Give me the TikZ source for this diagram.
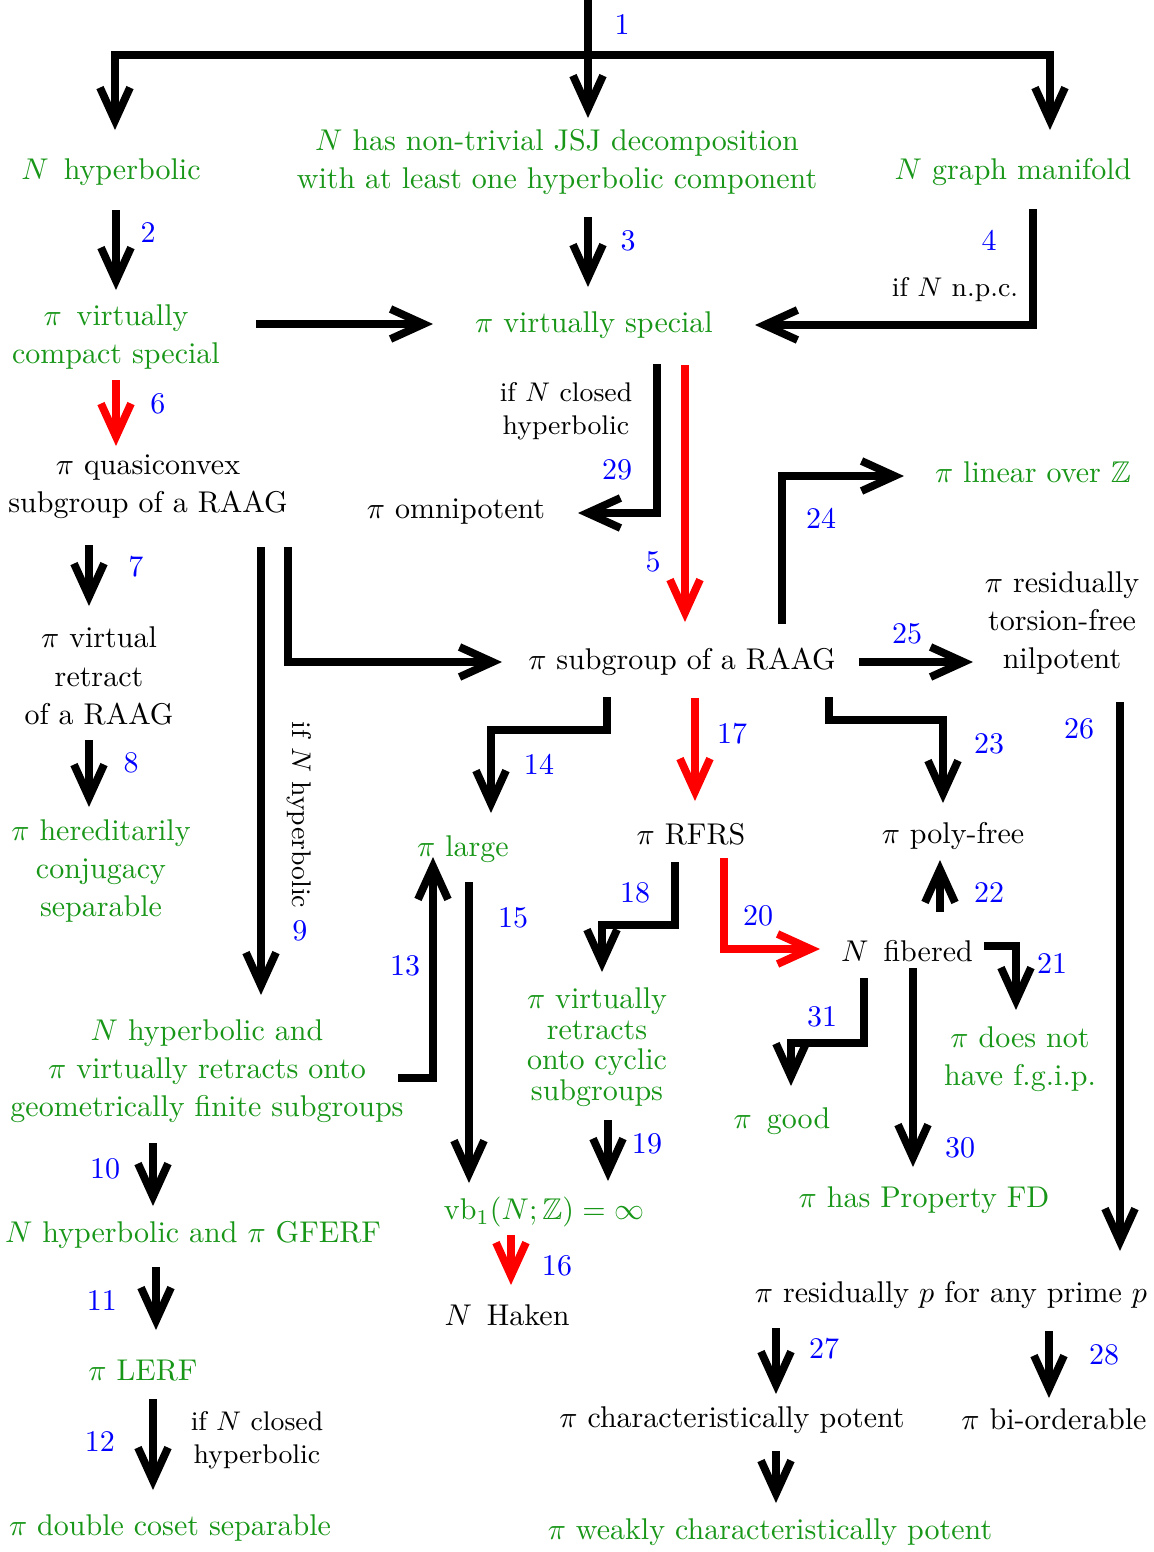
\documentclass[tikz,border=0pt]{standalone}
\usepackage{amsmath,amssymb}
\usepackage{xcolor}
\usetikzlibrary{arrows.meta,calc}
\definecolor{propgreen}{RGB}{24,150,24}
\tikzset{>=latex}
\tikzset{
  imp/.style={line width=2.6pt, -{Straight Barb[length=11pt,width=10pt]}},
  redimp/.style={imp, red},
  prop/.style={text=propgreen, align=center, font=\fontsize{10pt}{12.7pt}\selectfont},
  plain/.style={align=center, font=\fontsize{10pt}{12.7pt}\selectfont},
  num/.style={text=blue},
  cond/.style={align=center, font=\small},
}

\begin{document}
\begin{tikzpicture}[x=0.3333pt, y=-0.3333pt]

\useasboundingbox (0,0) rectangle (1153,1552);

% Top row
\node[prop] (hyp) at (111,172) {$N$\, hyperbolic};
\node[prop] (jsj) at (557,162) {$N$ has non-trivial JSJ decomposition\\with at least one hyperbolic component};
\node[prop] (gm) at (1013,172) {$N$ graph manifold};

% Special cube complexes
\node[prop] (vcs) at (116,337) {$\pi$\, virtually\\compact special};
\node[prop] (vs) at (594,325) {$\pi$ virtually special};
\node[plain] (qc) at (148,487) {$\pi$ quasiconvex\\subgroup of a RAAG};
\node[plain] (omni) at (456,512) {$\pi$ omnipotent};
\node[prop] (lin) at (1033,472) {$\pi$ linear over $\mathbb{Z}$};
\node[plain] (rtfn) at (1062,623) {$\pi$ residually\\torsion-free\\nilpotent};
\node[plain] (raag) at (682,662) {$\pi$ subgroup of a RAAG};
\node[plain] (vr) at (99,676) {$\pi$ virtual\\retract\\of a RAAG};
\node[prop] (hcs) at (101,871) {$\pi$ hereditarily\\conjugacy\\separable};

% Middle
\node[prop] (large) at (463,849) {$\pi$ large};
\node[plain] (rfrs) at (691,834) {$\pi$ RFRS};
\node[plain] (pf) at (953,836) {$\pi$ poly-free};
\node[plain] (fib) at (907,951) {$N$\, fibered};
\node[prop] (hvr) at (207,1071) {$N$ hyperbolic and\\$\pi$ virtually retracts onto\\geometrically finite subgroups};
\node[prop, font=\fontsize{10pt}{10.2pt}\selectfont] (vrc) at (597,1047) {$\pi$ virtually\\retracts\\onto cyclic\\subgroups};
\node[prop] (dnf) at (1020,1059) {$\pi$ does not\\have f.g.i.p.};
\node[prop] (good) at (782,1121) {$\pi$\, good};

% Bottom
\node[prop] (vb) at (544,1212) {$\mathrm{vb}_1(N;\mathbb{Z})=\infty$};
\node[prop] (fd) at (924,1200) {$\pi$ has Property FD};
\node[prop] (gferf) at (193,1235) {$N$ hyperbolic and $\pi$ GFERF};
\node[plain] (haken) at (507,1315) {$N$\, Haken};
\node[plain] (rp) at (951,1295) {$\pi$ residually $p$ for any prime $p$};
\node[prop] (lerf) at (143,1371) {$\pi$ LERF};
\node[plain] (cp) at (732,1420) {$\pi$ characteristically potent};
\node[plain] (bio) at (1054,1419) {$\pi$ bi-orderable};
\node[prop] (dcs) at (170,1528) {$\pi$ double coset separable};
\node[prop] (wcp) at (770,1532) {$\pi$ weakly characteristically potent};

% Conditions
\node[cond] (c4) at (955,290) {if $N$ n.p.c.};
\node[cond] (c29) at (566,411) {if $N$ closed\\hyperbolic};
\node[cond, rotate=-90] (c9) at (299,815) {if $N$ hyperbolic};
\node[cond] (c12) at (257,1440) {if $N$ closed\\hyperbolic};

% Numbers
\foreach \x/\y/\k in {622/24/1, 148/232/2, 628/241/3, 989/240/4, 653/562/5, 158/404/6,
  136/567/7, 131/763/8, 300/931/9, 105/1169/10, 102/1300/11, 100/1441/12, 405/966/13,
  539/764/14, 513/918/15, 557/1266/16, 732/734/17, 635/893/18, 647/1144/19, 758/916/20,
  1052/963/21, 989/892/22, 989/744/23, 821/518/24, 907/634/25, 1079/729/26, 824/1349/27,
  1104/1355/28, 617/470/29, 960/1148/30, 822/1017/31}{
  \node[num] (n\k) at (\x,\y) {\k};
}

% Split at the top
\coordinate (src) at (588,0);
\coordinate (fork) at (588,55);
\draw[imp] (src) -- ($(jsj)+(31,-44)$);
\draw[imp] (fork) -| ($(hyp)+(4,-42)$);
\draw[imp] (fork) -| ($(gm)+(37,-42)$);

\draw[imp] ($(hyp)+(5,38)$) -- ($(vcs)+(0,-47)$);
\draw[imp] ($(jsj)+(31,55)$) -- ($(vs)+(-6,-38)$);
\draw[imp] ($(gm)+(20,37)$) |- ($(vs)+(161,0)$);
\draw[imp] ($(vcs)+(140,-13)$) -- ($(vs)+(-161,-1)$);
\draw[redimp] ($(vcs)+(0,43)$) -- ($(qc)+(-32,-41)$);
\draw[imp] ($(vs)+(63,39)$) |- ($(omni)+(122,1)$);
\draw[redimp] ($(vs)+(91,40)$) -- ($(raag)+(3,-40)$);

% Out of the RAAG
\draw[imp] ($(raag)+(100,-38)$) |- ($(lin)+(-129,4)$);
\draw[imp] ($(raag)+(177,0)$) -- ($(rtfn)+(-89,39)$);
\draw[imp] ($(raag)+(-75,35)$) -- ++(0,33) -| ($(large)+(28,-36)$);
\draw[redimp] ($(raag)+(13,36)$) -- ($(rfrs)+(4,-33)$);
\draw[imp] ($(raag)+(147,35)$) -- ++(0,23) -| ($(pf)+(-10,-33)$);
\draw[imp] ($(rtfn)+(58,79)$) -- ($(rp)+(169,-44)$);

% Left column
\draw[imp] ($(qc)+(-59,58)$) -- ($(vr)+(-10,-70)$);
\draw[imp] ($(vr)+(-10,64)$) -- ($(hcs)+(-12,-64)$);
\draw[imp] ($(qc)+(113,60)$) -- ($(hvr)+(54,-76)$);
\draw[imp] ($(qc)+(140,60)$) |- ($(raag)+(-180,0)$);
\draw[imp] ($(hvr)+(191,7)$) -| ($(large)+(-30,8)$);
\draw[imp] ($(hvr)+(-54,72)$) -- ($(gferf)+(-40,-29)$);
\draw[imp] ($(gferf)+(-37,32)$) -- ($(lerf)+(13,-41)$);
\draw[imp] ($(lerf)+(10,28)$) -- ($(dcs)+(-17,-38)$);

% RFRS and fibering
\draw[imp] ($(large)+(6,33)$) -- ($(vb)+(-75,-29)$);
\draw[imp] ($(rfrs)+(-16,28)$) -- ++(0,63) -| ($(vrc)+(5,-75)$);
\draw[redimp] ($(rfrs)+(33,24)$) |- ($(fib)+(-87,-2)$);
\draw[imp] ($(fib)+(33,-39)$) -- ($(pf)+(-13,24)$);
\draw[imp] ($(fib)+(77,-5)$) -| ($(dnf)+(-4,-49)$);
\draw[imp] ($(fib)+(-43,27)$) -- ++(0,65) -| ($(good)+(9,-35)$);
\draw[imp] ($(fib)+(6,17)$) -- ($(fd)+(-11,-33)$);
\draw[imp] ($(vrc)+(11,73)$) -- ($(vb)+(64,-31)$);
\draw[redimp] ($(vb)+(-33,23)$) -- ($(haken)+(4,-30)$);

% Residual properties
\draw[imp] ($(rp)+(-175,33)$) -- ($(cp)+(44,-26)$);
\draw[imp] ($(rp)+(98,36)$) -- ($(bio)+(-5,-21)$);
\draw[imp] ($(cp)+(44,31)$) -- ($(wcp)+(6,-29)$);

\end{tikzpicture}
\end{document}
